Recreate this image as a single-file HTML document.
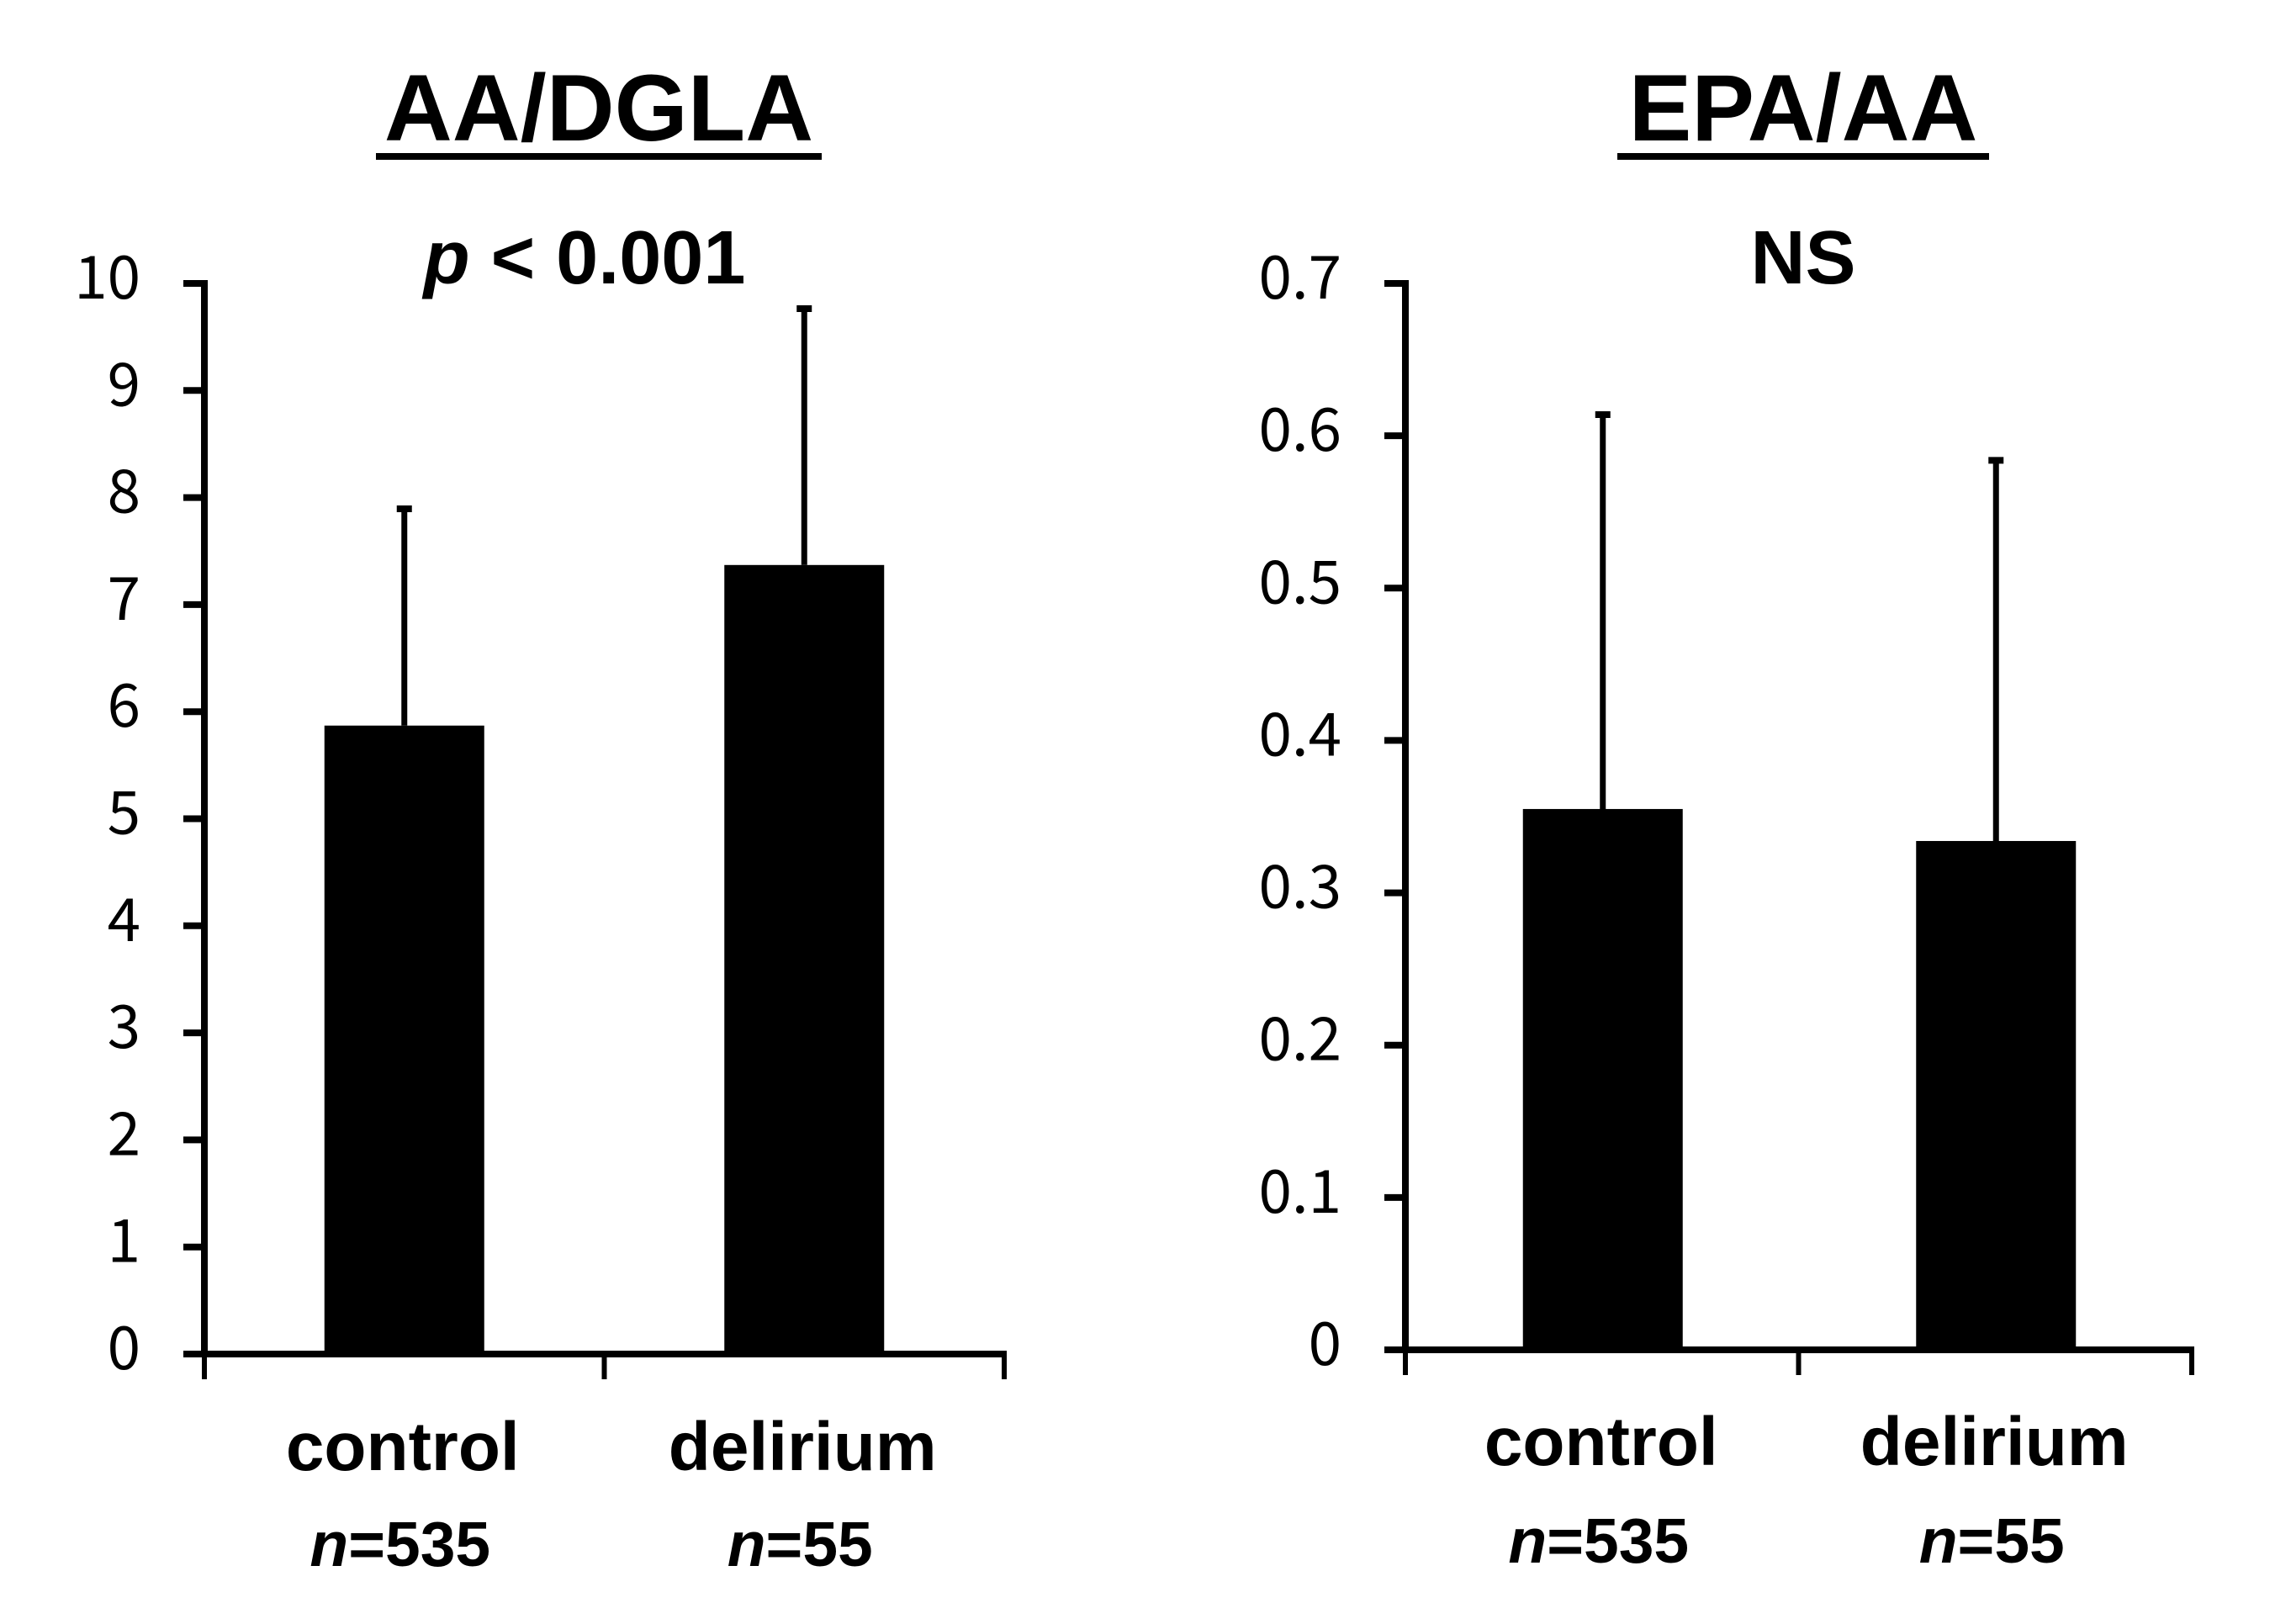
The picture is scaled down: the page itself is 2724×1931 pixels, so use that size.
<!DOCTYPE html>
<html><head><meta charset="utf-8"><style>
html,body{margin:0;padding:0;background:#fff}
svg{display:block}
text{font-family:"Liberation Sans",Arial,sans-serif;fill:#000}
.tick{font-family:"Noto Sans CJK JP","Liberation Sans",sans-serif}
</style></head><body>
<svg id="c" width="2724" height="1931" viewBox="0 0 2724 1931" xmlns="http://www.w3.org/2000/svg">
<g id="left"></g>
<g id="right"></g>
</svg>
<script>
const categories = ["control", "delirium"];
const sampleSizes = ["n=535", "n=55"];
const leftMeans = [5.87, 7.37];
const leftErrTop = [7.91, 9.78];
const leftTicks = [0,1,2,3,4,5,6,7,8,9,10];
const rightMeans = [0.355, 0.334];
const rightErrTop = [0.615, 0.585];
const rightTicks = [0,0.1,0.2,0.3,0.4,0.5,0.6,0.7];
const titles = ["AA/DGLA", "EPA/AA"];
const sigLabels = ["p < 0.001", "NS"];
const NS = "http://www.w3.org/2000/svg";
function mk(p, tag, attrs){const e=document.createElementNS(NS,tag);for(const k in attrs)e.setAttribute(k,attrs[k]);p.appendChild(e);return e;}
function panel(g, cfg){
  const y = v => cfg.y0 + (cfg.yTop - cfg.y0) * (v / cfg.max);
  const band = (cfg.xEnd - cfg.xAxis) / categories.length;
  const ya = mk(g,'line',{x1:cfg.xAxis,y1:y(cfg.max)-4,x2:cfg.xAxis,y2:cfg.y0,stroke:'#000','stroke-width':8});
  
  
  cfg.ticks.forEach(t=>{
    const tl = mk(g,'line',{x1:cfg.xAxis-25,y1:y(t),x2:cfg.xAxis,y2:y(t),stroke:'#000','stroke-width':8});
    
    
    const tx = mk(g,'text',{x:cfg.xAxis-76,y:y(t)+18,'font-size':71,'text-anchor':'end','class':'tick'});
    tx.textContent = cfg.fmt(t);
    
    
  });
  const xa = mk(g,'line',{x1:cfg.xAxis-25,y1:cfg.y0,x2:cfg.xEnd+3,y2:cfg.y0,stroke:'#000','stroke-width':8});
  
  
  for(let i=0;i<=categories.length;i++){
    const xt = mk(g,'line',{x1:cfg.xAxis+band*i,y1:cfg.y0,x2:cfg.xAxis+band*i,y2:cfg.y0+30,stroke:'#000','stroke-width':6});
    
    
  }
  categories.forEach((c,i)=>{
    const cx = cfg.xAxis + band*(i+0.5) + cfg.shift;
    const bw = 190;
    const eb = mk(g,'line',{x1:cx,y1:y(cfg.err[i]),x2:cx,y2:y(cfg.means[i]),stroke:'#000','stroke-width':7});
    
    
    const cap = mk(g,'line',{x1:cx-9,y1:y(cfg.err[i])+2,x2:cx+9,y2:y(cfg.err[i])+2,stroke:'#000','stroke-width':8});
    
    
    const r = mk(g,'rect',{x:cx-bw/2,y:y(cfg.means[i]),width:bw,height:cfg.y0-y(cfg.means[i]),fill:'#000'});
    
    
    const lb = mk(g,'text',{x:cx-2,y:cfg.labY,'font-size':82,'font-weight':'bold','text-anchor':'middle'});
    lb.textContent = c;
    
    
    const nl = mk(g,'text',{x:cx-5,y:cfg.nY,'font-size':75,'font-weight':'bold','text-anchor':'middle'});
    const parts = sampleSizes[i].split('=');
    const ni = mk(nl,'tspan',{'font-style':'italic'}); ni.textContent = parts[0];
    const nr = mk(nl,'tspan',{}); nr.textContent = '='+parts[1];
    
    
  });
  const ti = mk(g,'text',{x:cfg.titleX,y:167,'font-size':112,'font-weight':'bold','text-anchor':'middle'});
  ti.textContent = cfg.title;
  
  
  const ul = mk(g,'line',{x1:cfg.titleX-cfg.titleW/2,y1:186,x2:cfg.titleX+cfg.titleW/2,y2:186,stroke:'#000','stroke-width':8});
  
  
  const sg = mk(g,'text',{x:cfg.sigX,y:337,'font-size':90,'font-weight':'bold','text-anchor':'middle'});
  if(cfg.sig.startsWith('p')){
    const a=mk(sg,'tspan',{'font-style':'italic'}); a.textContent='p';
    const b=mk(sg,'tspan',{}); b.textContent=cfg.sig.slice(1);
  } else sg.textContent = cfg.sig;
  
  
}
panel(document.getElementById('left'),{xAxis:243,xEnd:1194,y0:1610,yTop:337,max:10,ticks:leftTicks,means:leftMeans,err:leftErrTop,fmt:t=>String(t),title:titles[0],titleX:712,titleW:530,sig:sigLabels[0],sigX:695,shift:0,labY:1748,nY:1862});
panel(document.getElementById('right'),{xAxis:1671,xEnd:2606,y0:1605,yTop:337,max:0.7,ticks:rightTicks,means:rightMeans,err:rightErrTop,fmt:t=>t===0?'0':t.toFixed(1),title:titles[1],titleX:2144,titleW:442,sig:sigLabels[1],sigX:2144,shift:1,labY:1742,nY:1858});
</script>
</body></html>
